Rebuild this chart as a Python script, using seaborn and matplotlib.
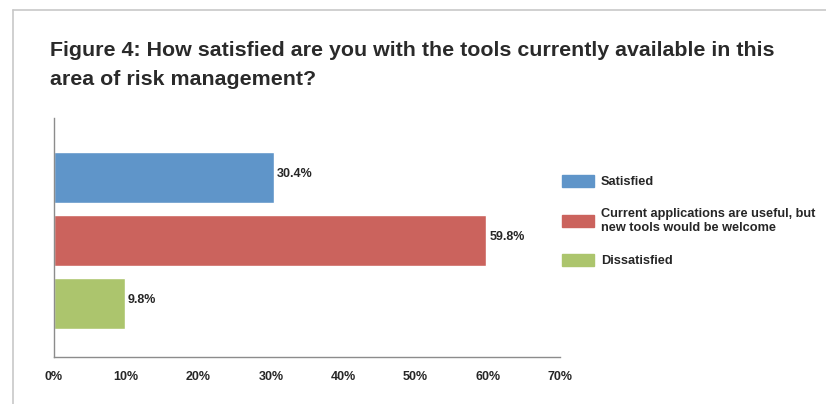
import matplotlib
matplotlib.use("Agg")
import matplotlib.pyplot as plt
import matplotlib.patches as mpatches
from matplotlib.lines import Line2D
import seaborn as sns
import pandas as pd

# --- data ---
categories = ["Satisfied",
              "Current applications are useful, but\nnew tools would be welcome",
              "Dissatisfied"]
values = [30.4, 59.8, 9.8]
bar_colors = ["#5F95C9", "#CB635D", "#ACC56D"]
x_ticks = [0, 10, 20, 30, 40, 50, 60, 70]
title = "Figure 4: How satisfied are you with the tools currently available in this\narea of risk management?"

sns.set_style("white")
plt.rcParams['font.family'] = ['DejaVu Sans Condensed', 'Liberation Sans Narrow', 'Liberation Sans', 'DejaVu Sans']

df = pd.DataFrame({'category': categories, 'value': values})

fig = plt.figure(figsize=(8.26, 4.04), dpi=100)
ax = fig.add_axes([0.0654, 0.1163, 0.6126, 0.5917])

sns.barplot(data=df, x='value', y='category', hue='category', order=categories,
            hue_order=categories, palette=bar_colors, width=0.81, dodge=False,
            legend=False, ax=ax, saturation=1)

ax.set_xlim(0, 70)
ax.set_ylim(2.85, -0.944)
ax.set_xticks(x_ticks)
ax.set_xticklabels([f"{t}%" for t in x_ticks], fontsize=9, fontweight='bold')
ax.set_yticks([])
ax.set_xlabel('')
ax.set_ylabel('')
ax.tick_params(axis='x', length=4, width=0.8, color='#8c8c8c', direction='inout', pad=8)

for side in ['top', 'right']:
    ax.spines[side].set_visible(False)
for side in ['left', 'bottom']:
    ax.spines[side].set_color('#8c8c8c')
    ax.spines[side].set_linewidth(1.0)

# value labels
for i, v in enumerate(values):
    ax.text(v + 0.4, i - 0.05, f"{v}%", va='center', ha='left', fontsize=9, fontweight='bold')

# legend
handles = [mpatches.Patch(color=c, label=l) for c, l in zip(bar_colors, categories)]
leg = fig.legend(handles=handles, loc='upper left', bbox_to_anchor=(0.667, 0.595),
                 frameon=False, prop={'weight': 'bold', 'size': 9.2},
                 handlelength=2.45, handleheight=1.05, labelspacing=1.55,
                 handletextpad=0.55)

# title
fig.text(0.0605, 0.898, title, ha='left', va='top', fontsize=15.4,
         fontweight='bold', color='#2a2a2a', linespacing=1.65)

# frame lines
fig.add_artist(Line2D([0.016, 1.0], [0.975, 0.975], color='#c8c8c8', lw=1.2))
fig.add_artist(Line2D([0.016, 0.016], [0.0, 0.975], color='#c8c8c8', lw=1.2))

fig.savefig('out.png', dpi=100)
